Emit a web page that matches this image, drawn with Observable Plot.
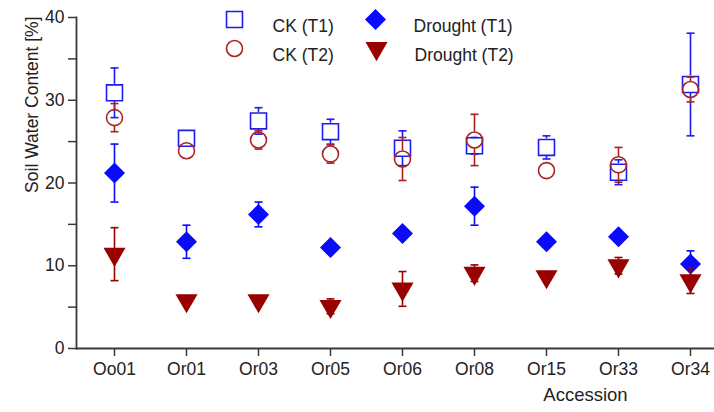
<!DOCTYPE html>
<html><head><meta charset="utf-8">
<script src="https://cdn.jsdelivr.net/npm/d3@7"></script>
<script src="https://cdn.jsdelivr.net/npm/@observablehq/plot@0.6"></script>
<style>
html,body{margin:0;padding:0;background:#fff;}
#chart svg{display:block;}
</style></head><body><div id="chart"></div>
<script>
// ---- data ----
const accessions = ["Oo01","Or01","Or03","Or05","Or06","Or08","Or15","Or33","Or34"];
const ckT1      = [30.9, 25.4, 27.5, 26.2, 24.2, 24.5, 24.3, 21.3, 31.9];
const ckT1Err   = [3.0, 0.5, 1.6, 1.5, 2.1, 1.0, 1.4, 1.5, 6.2];
const ckT2      = [27.9, 23.9, 25.2, 23.5, 22.9, 25.2, 21.5, 22.2, 31.3];
const ckT2Err   = [1.7, 0.5, 1.1, 1.1, 2.6, 3.1, 0.5, 2.1, 1.5];
const drT1      = [21.2, 12.9, 16.2, 12.2, 13.9, 17.2, 12.9, 13.5, 10.2];
const drT1Err   = [3.5, 2.0, 1.5, 0.5, 0.6, 2.3, 0.5, 0.5, 1.6];
const drT2      = [11.4, 5.8, 5.8, 5.1, 7.2, 9.1, 8.7, 10.0, 8.2];
const drT2Err   = [3.2, 0.5, 0.5, 0.9, 2.1, 1.0, 0.5, 1.0, 1.55];
const seriesNames = ["CK (T1)", "CK (T2)", "Drought (T1)", "Drought (T2)"];
const majorTicks = [0, 10, 20, 30, 40];
const minorTicks = [5, 15, 25, 35];
const yTitle = "Soil Water Content [%]";
const xTitle = "Accession";

// ---- styles ----
const BLUE = "#1c1cf0", DBLUE = "#0a0aff", RED = "#a82222", DRED = "#990000";
const AX = "#3a3a3a";
const series = [
  {name: seriesNames[0], values: ckT1, errors: ckT1Err, color: BLUE, symbol: "square", r: 9, hollow: true, rotate: 0, inset: 8.5, lx: 158, ly: 2},
  {name: seriesNames[1], values: ckT2, errors: ckT2Err, color: RED, symbol: "circle", r: 8, hollow: true, rotate: 0, inset: 8, lx: 158, ly: 31},
  {name: seriesNames[2], values: drT1, errors: drT1Err, color: DBLUE, symbol: "square", r: 8.4, hollow: false, rotate: 45, inset: 0, lx: 299, ly: 2},
  {name: seriesNames[3], values: drT2, errors: drT2Err, color: DRED, symbol: "triangle", r: 8.2, hollow: false, rotate: 180, inset: 0, lx: 300, ly: 31}
];

const cap = {draw(ctx) { ctx.moveTo(-4, 0); ctx.lineTo(4, 0); }};

const marks = [
  Plot.ruleY([0], {stroke: AX, strokeWidth: 1.8}),
  Plot.frame({anchor: "left", stroke: AX, strokeWidth: 1.8}),
  Plot.axisY({ticks: majorTicks, tickSize: 8, tickPadding: 4, label: null, fontSize: 17.5, stroke: AX, strokeWidth: 1.5}),
  Plot.axisY({ticks: minorTicks, tickSize: 8, tickFormat: () => "", label: null, stroke: AX, strokeWidth: 1.5}),
  Plot.axisX({tickSize: 8, tickPadding: 6, label: null, fontSize: 17.5, stroke: AX, strokeWidth: 1.5})
];

for (const s of series) {
  const rows = accessions.map((a, i) => ({acc: a, v: s.values[i], e: s.errors[i]}));
  const vis = s.hollow ? rows.filter(d => d.e >= 1) : rows;
  marks.push(
    Plot.ruleX(vis, {x: "acc", y1: d => d.v + d.e, y2: d => d.v, insetBottom: s.inset, stroke: s.color, strokeWidth: 1.6}),
    Plot.ruleX(vis, {x: "acc", y1: d => d.v, y2: d => d.v - d.e, insetTop: s.inset, stroke: s.color, strokeWidth: 1.6}),
    Plot.dot(vis, {x: "acc", y: d => d.v + d.e, symbol: cap, fill: "none", stroke: s.color, strokeWidth: 1.6}),
    Plot.dot(vis, {x: "acc", y: d => d.v - d.e, symbol: cap, fill: "none", stroke: s.color, strokeWidth: 1.6}),
    Plot.dot(rows, {x: "acc", y: "v", symbol: s.symbol, r: s.r, rotate: s.rotate,
      fill: s.hollow ? "none" : s.color, stroke: s.hollow ? s.color : "none", strokeWidth: 1.6}),
    // legend
    Plot.dot([s.name], {frameAnchor: "top-left", dx: s.lx, dy: s.ly, symbol: s.symbol, r: s.r, rotate: s.rotate,
      fill: s.hollow ? "none" : s.color, stroke: s.hollow ? s.color : "none", strokeWidth: 1.6}),
    Plot.text([s.name], {frameAnchor: "top-left", dx: s.lx + 38, dy: s.ly, textAnchor: "start", fontSize: 17.5, fill: "#222"})
  );
}

marks.push(
  Plot.text([yTitle], {frameAnchor: "top-left", rotate: -90, textAnchor: "end", dx: -51, dy: -1, fontSize: 17.5, fill: "#222"}),
  Plot.text([xTitle], {frameAnchor: "bottom-left", dx: 509, dy: 52, textAnchor: "middle", fontSize: 18.5, fill: "#222"})
);

const chart = Plot.plot({
  width: 714, height: 412,
  marginLeft: 76, marginRight: 0, marginTop: 17, marginBottom: 64,
  style: {fontFamily: "'Liberation Sans', Arial, sans-serif", color: "#222", background: "#fff"},
  x: {type: "point", domain: accessions, padding: 0, insetLeft: 37, insetRight: 24},
  y: {domain: [0, 40]},
  marks
});
document.getElementById("chart").appendChild(chart);
</script></body></html>
